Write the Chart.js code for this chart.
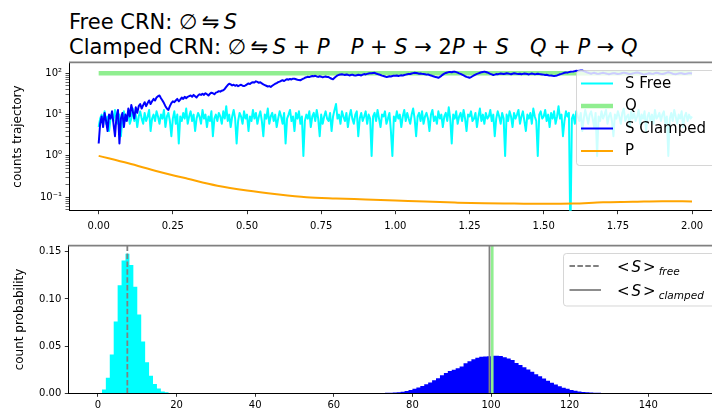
<!DOCTYPE html>
<html lang="en">
<head>
<meta charset="UTF-8">
<script src="https://cdn.jsdelivr.net/npm/chart.js"></script>
<title>Free vs clamped CRN</title>
<style>
  html, body { margin: 0; padding: 0; background: #fff; overflow: hidden; }
  #wrap { position: relative; width: 712px; height: 413px; overflow: hidden; font-family: "DejaVu Sans", sans-serif; }
  .title { position: absolute; left: 69px; font-size: 21px; line-height: 1; white-space: pre; color: #000; }
  .rel { margin: 0 4.5px; }
  .quad { display: inline-block; width: 21px; }
  #topCanvas { position: absolute; left: 0; top: 0; }
  #botCanvas { position: absolute; left: 0; top: 230px; }
</style>
</head>
<body>
<div id="wrap">
  <div class="title" style="top:12px">Free CRN: ∅<span class="rel">⇋</span><i>S</i></div>
  <div class="title" style="top:37px">Clamped CRN: ∅<span class="rel">⇋</span><i>S</i> + <i>P</i><span class="quad"></span><i>P</i> + <i>S</i> → 2<i>P</i> + <i>S</i><span class="quad"></span><i>Q</i> + <i>P</i> → <i>Q</i></div>
  <canvas id="topCanvas" width="740" height="240"></canvas>
  <canvas id="botCanvas" width="740" height="183"></canvas>
</div>

<script>
// ---- top panel: trajectories, sampled every 0.005 from t=0 to t=2 ----
const T_START = 0;
const T_STEP = 0.005;

const S_FREE = [
  5, 8, 10, 7, 12, 6, 9, 4, 8, 11, 7, 13, 9, 6, 10, 3, 8, 12, 7, 9,
  11, 6, 8, 14, 7, 10, 5, 9, 12, 8, 6, 11, 7, 9, 13, 4, 8, 10, 7, 12,
  9, 6, 10, 8, 13, 5, 9, 11, 7, 3, 8, 12, 6, 10, 2, 9, 7, 11, 8, 14,
  6, 9, 12, 7, 10, 4, 8, 11, 9, 6, 13, 8, 10, 5, 9, 7, 12, 3, 8, 10,
  7, 11, 9, 6, 12, 8, 16, 7, 10, 5, 9, 13, 8, 2, 7, 11, 9, 6, 12, 8,
  10, 4, 9, 7, 13, 8, 11, 6, 9, 12, 7, 3, 10, 8, 14, 6, 9, 11, 7, 10,
  5, 8, 12, 9, 6, 11, 2, 8, 10, 13, 7, 9, 4, 11, 8, 12, 6, 9, 1, 7,
  10, 8, 12, 5, 9, 11, 7, 13, 8, 3, 10, 6, 9, 12, 8, 7, 11, 4, 9, 13,
  18, 8, 10, 6, 12, 9, 7, 11, 5, 9, 13, 8, 6, 10, 12, 3, 8, 11, 7, 9,
  12, 6, 10, 8, 1, 9, 11, 7, 13, 8, 5, 10, 9, 12, 6, 8, 11, 4, 1, 9,
  7, 12, 8, 10, 5, 9, 13, 7, 11, 8, 6, 10, 14, 8, 3, 9, 11, 7, 12, 6,
  9, 11, 8, 4, 10, 13, 7, 9, 6, 12, 8, 10, 5, 9, 11, 7, 15, 8, 2, 10,
  8, 12, 6, 9, 11, 7, 13, 8, 4, 10, 9, 12, 7, 8, 11, 5, 9, 14, 7, 10,
  6, 11, 8, 9, 13, 7, 10, 3, 8, 12, 9, 6, 11, 8, 1, 10, 7, 12, 9, 5,
  11, 8, 10, 13, 6, 9, 12, 7, 4, 10, 8, 11, 6, 14, 9, 7, 1, 10, 12, 8,
  9, 13, 7, 10, 5, 11, 8, 12, 6, 9, 16, 8, 10, 3, 7, 12, 9, 11, 0, 8,
  10, 6, 12, 9, 7, 11, 4, 8, 13, 9, 6, 10, 12, 8, 5, 11, 1, 9, 7, 12,
  8, 10, 13, 6, 9, 11, 7, 3, 10, 8, 12, 9, 6, 11, 14, 7, 9, 10, 5, 12,
  8, 11, 7, 9, 13, 6, 10, 8, 12, 4, 9, 11, 7, 10, 6, 13, 8, 9, 11, 7,
  10, 12, 6, 9, 1, 8, 11, 7, 13, 9, 6, 10, 8, 12, 5, 9, 11, 7, 10, 8,
  9
];

const S_CLAMPED = [
  2, 6, 9, 5, 11, 7, 4, 10, 8, 12, 6, 3, 9, 13, 2, 8, 11, 5, 10, 7,
  14, 9, 17, 12, 8, 15, 11, 16, 18, 14, 17, 20, 16, 19, 22, 18, 21, 24, 22, 26,
  28, 29, 25, 22, 19, 16, 14, 13, 16, 19, 21, 20, 22, 24, 21, 23, 26, 24, 27, 25,
  27, 28, 29, 27, 30, 28, 26, 29, 31, 30, 32, 30, 33, 31, 29, 32, 34, 33, 31, 34,
  35, 37, 36, 38, 39, 42, 47, 52, 56, 54, 51, 53, 50, 52, 49, 51, 53, 50, 49, 51,
  54, 57, 55, 59, 61, 60, 64, 62, 59, 61, 57, 54, 52, 50, 48, 49, 47, 50, 53, 56,
  58, 61, 63, 66, 68, 65, 69, 72, 70, 73, 71, 74, 74, 72, 70, 69, 68, 71, 74, 78,
  80, 83, 81, 84, 86, 85, 87, 84, 82, 85, 83, 80, 82, 84, 81, 81, 77, 74, 72, 78,
  84, 89, 92, 94, 95, 93, 91, 94, 92, 89, 91, 93, 90, 88, 90, 92, 91, 89, 93, 96,
  94, 97, 99, 101, 100, 102, 103, 99, 96, 94, 91, 88, 86, 84, 81, 83, 85, 84, 86, 88,
  87, 89, 86, 88, 90, 88, 91, 93, 95, 97, 96, 99, 101, 103, 102, 100, 98, 99, 97, 96,
  95, 93, 94, 91, 89, 86, 84, 81, 80, 78, 82, 87, 93, 98, 102, 105, 107, 108, 106, 109,
  110, 107, 104, 100, 97, 93, 89, 85, 82, 80, 78, 81, 85, 89, 93, 97, 100, 103, 106, 108,
  110, 108, 105, 101, 97, 94, 91, 93, 96, 95, 97, 99, 98, 96, 98, 100, 99, 97, 95, 98,
  100, 99, 97, 96, 98, 95, 97, 99, 98, 96, 94, 97, 99, 97, 95, 96, 98, 96, 95, 94,
  93, 91, 92, 90, 88, 89, 87, 86, 87, 89, 92, 95, 97, 100, 103, 105, 104, 107, 109, 110,
  111, 113, 115, 114, 116, 117, 117, 113, 110, 106, 103, 100, 98, 101, 103, 100, 98, 97, 99, 101,
  103, 101, 99, 97, 95, 97, 99, 101, 100, 98, 96, 97, 99, 102, 104, 102, 100, 98, 96, 97,
  99, 101, 103, 105, 103, 100, 98, 95, 94, 96, 98, 100, 99, 97, 98, 101, 103, 102, 99, 97,
  96, 98, 100, 104, 106, 104, 101, 98, 96, 95, 97, 99, 101, 100, 98, 96, 97, 99, 101, 100,
  99
];

const P_TIMES  = [0, 0.1, 0.2, 0.3, 0.4, 0.5, 0.6, 0.7, 0.8, 0.9, 1.0, 1.1, 1.2, 1.3, 1.4, 1.5, 1.6, 1.7, 1.8, 1.9, 2.0];
const P_VALUES = [1.00, 0.66, 0.42, 0.28, 0.19, 0.145, 0.118, 0.100, 0.093, 0.088, 0.083, 0.078, 0.074, 0.071, 0.070, 0.069, 0.070, 0.075, 0.077, 0.080, 0.079];

const Q_TIMES  = [0, 2];
const Q_VALUES = [100, 100];

const TOP_X_TICKS = [0, 0.25, 0.5, 0.75, 1.0, 1.25, 1.5, 1.75, 2.0];
const LOG_TICKS = [0.05, 0.06, 0.07, 0.08, 0.09, 0.1, 0.2, 0.3, 0.4, 0.5, 0.6, 0.7, 0.8, 0.9,
                   1, 2, 3, 4, 5, 6, 7, 8, 9, 10, 20, 30, 40, 50, 60, 70, 80, 90, 100];
const LOG_TICK_LABELS = { '0.1': '10\u207B\u00B9', '1': '10\u2070', '10': '10\u00B9', '100': '10\u00B2' };
const LOG_FLOOR = 0.01;   // zero counts fall below the log axis

// ---- bottom panel: count histograms (unit bins) ----
const HIST_FREE_START = 1;
const HIST_FREE = [0.004, 0.0166, 0.041, 0.076, 0.1145, 0.1406, 0.148, 0.136, 0.113, 0.0834,
                   0.055, 0.033, 0.0187, 0.0099, 0.005, 0.002, 0.001];

const HIST_CLAMPED_START = 73;
const HIST_CLAMPED = [
  0.0005, 0.0006, 0.0008, 0.0012, 0.0016, 0.0025, 0.0035,
  0.0048, 0.0062, 0.0078, 0.0097, 0.0114, 0.0138, 0.0160, 0.0190, 0.0215, 0.0236,
  0.0250, 0.0265, 0.0285, 0.0318, 0.0340, 0.0360, 0.0378, 0.0387, 0.0391, 0.0392,
  0.0398, 0.0399, 0.0395, 0.0383, 0.0370, 0.0352, 0.0322, 0.0300, 0.0276, 0.0252,
  0.0228, 0.0203, 0.0180, 0.0156, 0.0132, 0.0112, 0.0093, 0.0075, 0.0060, 0.0047,
  0.0035, 0.0026, 0.0019, 0.0014, 0.0010, 0.0008, 0.0006, 0.0005,
  0.0001, 0.0001, 0.0001, 0.0001, 0.0001, 0.0001, 0.0001, 0.0001, 0.0001, 0.0001, 0.0001, 0.0001,
  0.0001, 0.0001, 0.0001, 0.0001, 0.0001, 0.0001, 0.0001, 0.0001, 0.0001, 0.0001, 0.0001, 0.0001
];

const MEAN_FREE = 7.47;
const MEAN_CLAMPED = 99.6;
const Q_COUNT = 100.3;

const BOT_X_TICKS = [0, 20, 40, 60, 80, 100, 120, 140];
const BOT_Y_TICKS = [0, 0.05, 0.10, 0.15];
const BOT_Y_MAX = 0.1564;

Chart.defaults.font.family = '"DejaVu Sans", sans-serif';
Chart.defaults.color = '#000';

const tickFont = { size: 10 };

function series(values) {
  return values.map((v, i) => ({ x: T_START + i * T_STEP, y: v > 0 ? v : LOG_FLOOR }));
}

function pairs(xs, ys) {
  return xs.map((x, i) => ({ x: x, y: ys[i] }));
}

// one point per bin left edge, then the closing right edge at 0
function histSteps(start, probs) {
  const pts = probs.map((p, i) => ({ x: start + i, y: p }));
  pts.push({ x: start + probs.length, y: 0 });
  return pts;
}

// grey top spine over the plot edge
const topSpine = {
  id: 'topSpine',
  afterDatasetsDraw(chart) {
    const a = chart.chartArea, ctx = chart.ctx;
    ctx.save();
    ctx.strokeStyle = '#808080';
    ctx.lineWidth = 1.8;
    ctx.beginPath();
    ctx.moveTo(a.left, a.top);
    ctx.lineTo(a.right, a.top);
    ctx.stroke();
    ctx.restore();
  }
};

function legendBox(ctx, x, y, w, h) {
  const r = 3;
  ctx.beginPath();
  ctx.moveTo(x + r, y);
  ctx.lineTo(x + w - r, y);
  ctx.quadraticCurveTo(x + w, y, x + w, y + r);
  ctx.lineTo(x + w, y + h - r);
  ctx.quadraticCurveTo(x + w, y + h, x + w - r, y + h);
  ctx.lineTo(x + r, y + h);
  ctx.quadraticCurveTo(x, y + h, x, y + h - r);
  ctx.lineTo(x, y + r);
  ctx.quadraticCurveTo(x, y, x + r, y);
  ctx.closePath();
  ctx.fillStyle = 'rgba(255,255,255,0.8)';
  ctx.fill();
  ctx.strokeStyle = 'rgba(204,204,204,0.8)';
  ctx.lineWidth = 1;
  ctx.stroke();
}

const topLegend = {
  id: 'topLegend',
  afterDatasetsDraw(chart) {
    const ctx = chart.ctx;
    const items = [
      { label: 'S Free', color: '#00FFFF', width: 2 },
      { label: 'Q', color: '#90EE90', width: 4.5 },
      { label: 'S Clamped', color: '#0000FF', width: 2 },
      { label: 'P', color: '#FFA500', width: 2 }
    ];
    ctx.save();
    legendBox(ctx, 576.5, 70.5, 200, 95);
    ctx.font = '15px "DejaVu Sans"';
    ctx.textBaseline = 'middle';
    items.forEach((it, i) => {
      const y = 83.5 + i * 22.5;
      ctx.strokeStyle = it.color;
      ctx.lineWidth = it.width;
      ctx.beginPath();
      ctx.moveTo(581, y);
      ctx.lineTo(613, y);
      ctx.stroke();
      ctx.fillStyle = '#000';
      ctx.fillText(it.label, 625, y + 0.5);
    });
    ctx.restore();
  }
};

const botLegend = {
  id: 'botLegend',
  afterDatasetsDraw(chart) {
    const ctx = chart.ctx;
    const items = [
      { sub: 'free', dash: [5.5, 2.4] },
      { sub: 'clamped', dash: [] }
    ];
    ctx.save();
    legendBox(ctx, 563.5, 23.5, 200, 52.5);
    ctx.textBaseline = 'alphabetic';
    items.forEach((it, i) => {
      const y = 36 + i * 24;
      ctx.strokeStyle = '#808080';
      ctx.lineWidth = 1.8;
      ctx.setLineDash(it.dash);
      ctx.beginPath();
      ctx.moveTo(569.5, y);
      ctx.lineTo(601, y);
      ctx.stroke();
      ctx.setLineDash([]);
      ctx.fillStyle = '#000';
      let x = 617;
      const base = y + 5.5;
      ctx.font = '15px "DejaVu Sans"';
      ctx.fillText('<', x, base); x += ctx.measureText('<').width + 2;
      ctx.font = 'italic 15px "DejaVu Sans"';
      ctx.fillText('S', x, base); x += ctx.measureText('S').width + 2;
      ctx.font = '15px "DejaVu Sans"';
      ctx.fillText('>', x, base); x += ctx.measureText('>').width + 3;
      ctx.font = 'italic 10.5px "DejaVu Sans"';
      ctx.fillText(it.sub, x, base + 3.5);
    });
    ctx.restore();
  }
};

// ---- top chart ----
new Chart(document.getElementById('topCanvas'), {
  type: 'line',
  data: {
    datasets: [
      { label: 'S Free', data: series(S_FREE), borderColor: '#00FFFF', borderWidth: 2, order: 4 },
      { label: 'Q', data: pairs(Q_TIMES, Q_VALUES), borderColor: '#90EE90', borderWidth: 4.5, order: 3 },
      { label: 'S Clamped', data: series(S_CLAMPED), borderColor: '#0000FF', borderWidth: 2, order: 2 },
      { label: 'P', data: pairs(P_TIMES, P_VALUES), borderColor: '#FFA500', borderWidth: 2,
        cubicInterpolationMode: 'monotone', order: 1 }
    ]
  },
  options: {
    responsive: false,
    animation: false,
    layout: { padding: { left: 0, top: 62.3, right: 18.3, bottom: 0 } },
    elements: { point: { radius: 0 }, line: { tension: 0, borderJoinStyle: 'round' } },
    plugins: { legend: { display: false }, tooltip: { enabled: false } },
    scales: {
      x: {
        type: 'linear', min: -0.1, max: 2.1,
        afterBuildTicks: s => { s.ticks = TOP_X_TICKS.map(v => ({ value: v })); },
        afterFit: s => { s.height = 29.3; },
        ticks: { font: tickFont, padding: 6, maxRotation: 0, autoSkip: false, callback: v => v.toFixed(2) },
        grid: { drawOnChartArea: false, tickLength: 3.5, tickColor: '#000', tickWidth: 0.8 },
        border: { color: '#000', width: 1 }
      },
      y: {
        type: 'logarithmic', min: 0.047, max: 185,
        afterBuildTicks: s => { s.ticks = LOG_TICKS.map(v => ({ value: v })); },
        afterFit: s => { s.width = 69; },
        ticks: { font: tickFont, padding: 3.5, autoSkip: false, callback: v => LOG_TICK_LABELS[String(v)] || '' },
        grid: { drawOnChartArea: false, tickLength: 3.5, tickColor: '#000',
                tickWidth: c => LOG_TICK_LABELS[String(c.tick.value)] ? 0.8 : 0.6 },
        border: { color: '#000', width: 1 },
        title: { display: true, text: 'counts trajectory', font: { size: 12 }, padding: { top: 10.8, bottom: 0 } }
      }
    }
  },
  plugins: [topSpine, topLegend]
});

// ---- bottom chart ----
new Chart(document.getElementById('botCanvas'), {
  type: 'line',
  data: {
    datasets: [
      { label: 'free', data: histSteps(HIST_FREE_START, HIST_FREE), stepped: 'before',
        fill: 'origin', backgroundColor: '#00FFFF', borderColor: 'rgba(0,0,0,0)', borderWidth: 0, order: 5 },
      { label: 'clamped', data: histSteps(HIST_CLAMPED_START, HIST_CLAMPED), stepped: 'before',
        fill: 'origin', backgroundColor: '#0000FF', borderColor: 'rgba(0,0,0,0)', borderWidth: 0, order: 4 },
      { label: '<S> free', data: pairs([MEAN_FREE, MEAN_FREE], [0, BOT_Y_MAX]),
        borderColor: '#808080', borderWidth: 1.8, borderDash: [5.5, 2.4], order: 3 },
      { label: '<S> clamped', data: pairs([MEAN_CLAMPED, MEAN_CLAMPED], [0, BOT_Y_MAX]),
        borderColor: '#808080', borderWidth: 1.8, order: 2 },
      { label: 'Q', data: pairs([Q_COUNT, Q_COUNT], [0, BOT_Y_MAX]),
        borderColor: '#90EE90', borderWidth: 2.7, order: 1 }
    ]
  },
  options: {
    responsive: false,
    animation: false,
    layout: { padding: { left: 0, top: 15.7, right: 19, bottom: 0 } },
    elements: { point: { radius: 0 }, line: { tension: 0 } },
    plugins: { legend: { display: false }, tooltip: { enabled: false } },
    scales: {
      x: {
        type: 'linear', min: -7.55, max: 158.5,
        afterBuildTicks: s => { s.ticks = BOT_X_TICKS.map(v => ({ value: v })); },
        afterFit: s => { s.height = 19.7; },
        ticks: { font: tickFont, padding: 3, maxRotation: 0, autoSkip: false, callback: v => String(v) },
        grid: { drawOnChartArea: false, tickLength: 3.5, tickColor: '#000', tickWidth: 0.8 },
        border: { color: '#000', width: 1 }
      },
      y: {
        type: 'linear', min: 0, max: BOT_Y_MAX,
        afterBuildTicks: s => { s.ticks = BOT_Y_TICKS.map(v => ({ value: v })); },
        afterFit: s => { s.width = 68.3; },
        ticks: { font: tickFont, padding: 3.5, autoSkip: false, callback: v => v.toFixed(2) },
        grid: { drawOnChartArea: false, tickLength: 3.5, tickColor: '#000', tickWidth: 0.8 },
        border: { color: '#000', width: 1 },
        title: { display: true, text: 'count probability', font: { size: 12 }, padding: { top: 12.5, bottom: 0 } }
      }
    }
  },
  plugins: [topSpine, botLegend]
});
</script>
</body>
</html>
